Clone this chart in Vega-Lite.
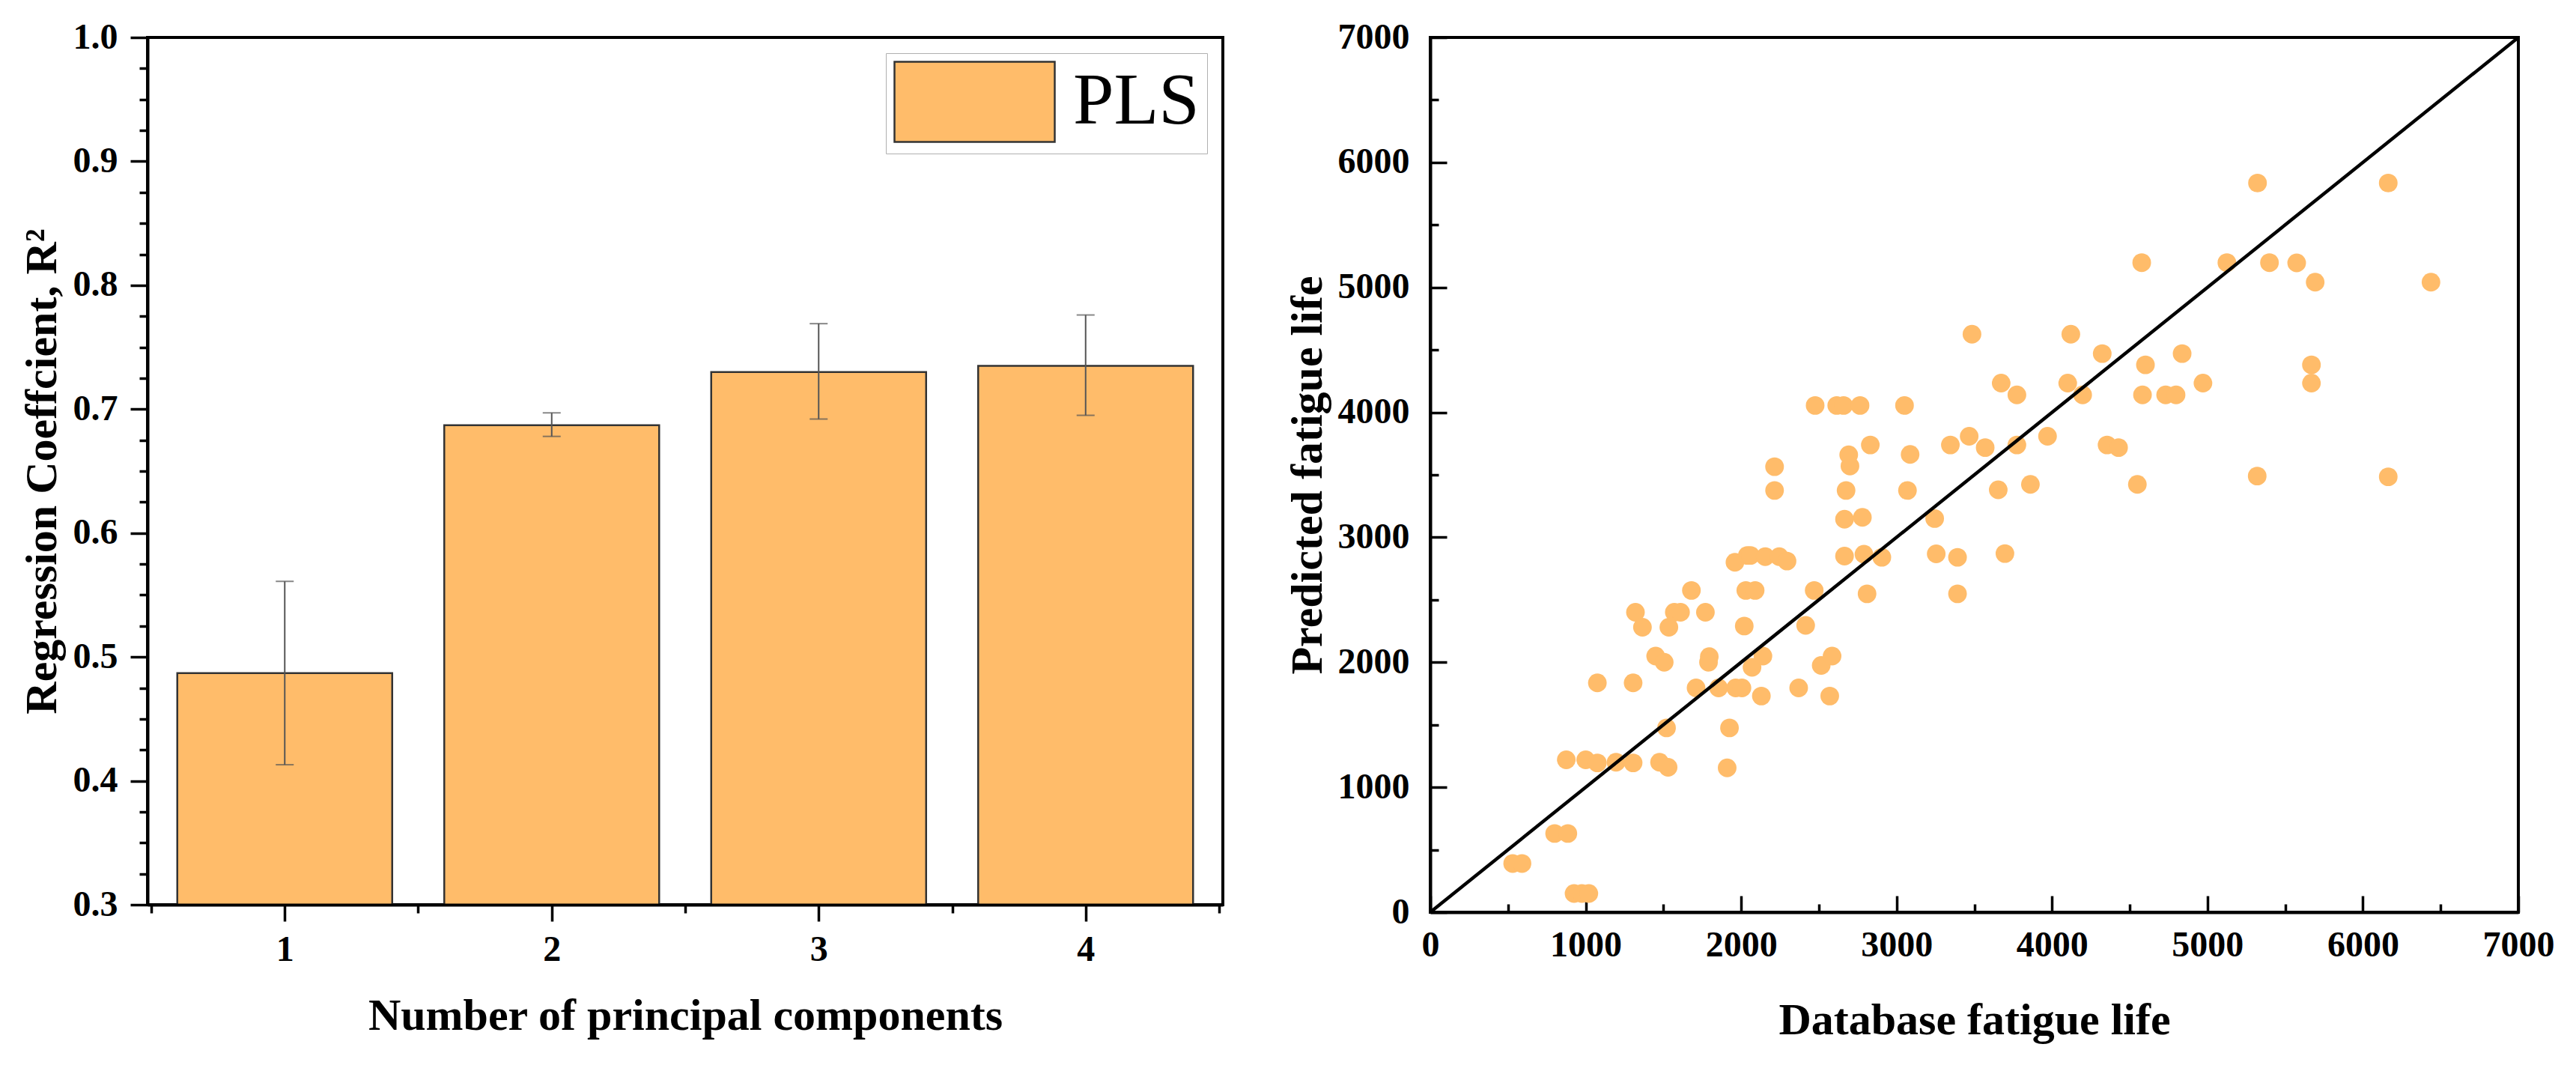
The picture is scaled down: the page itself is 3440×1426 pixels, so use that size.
{
  "$schema": "https://vega.github.io/schema/vega-lite/v6.json",
  "background": "white",
  "padding": {"left": 24, "top": 24, "right": 10, "bottom": 10},
  "datasets": {
    "r2": [
      {"pc": 1, "r2": 0.487, "lo": 0.413, "hi": 0.561, "method": "PLS"},
      {"pc": 2, "r2": 0.687, "lo": 0.678, "hi": 0.697, "method": "PLS"},
      {"pc": 3, "r2": 0.730, "lo": 0.692, "hi": 0.769, "method": "PLS"},
      {"pc": 4, "r2": 0.735, "lo": 0.695, "hi": 0.776, "method": "PLS"}
    ],
    "diag": [
      {"actual": 0, "predicted": 0},
      {"actual": 7000, "predicted": 7000}
    ],
    "pts": [
      {"actual": 530, "predicted": 390}, {"actual": 590, "predicted": 390},
      {"actual": 800, "predicted": 630}, {"actual": 885, "predicted": 630},
      {"actual": 925, "predicted": 150}, {"actual": 975, "predicted": 150}, {"actual": 1020, "predicted": 150},
      {"actual": 875, "predicted": 1220}, {"actual": 1000, "predicted": 1220}, {"actual": 1075, "predicted": 1195},
      {"actual": 1195, "predicted": 1200}, {"actual": 1305, "predicted": 1195}, {"actual": 1475, "predicted": 1200},
      {"actual": 1530, "predicted": 1160}, {"actual": 1910, "predicted": 1155},
      {"actual": 1075, "predicted": 1835}, {"actual": 1305, "predicted": 1835},
      {"actual": 1520, "predicted": 1475}, {"actual": 1925, "predicted": 1475},
      {"actual": 1320, "predicted": 2400}, {"actual": 1365, "predicted": 2280}, {"actual": 1450, "predicted": 2050},
      {"actual": 1505, "predicted": 2000}, {"actual": 1535, "predicted": 2280}, {"actual": 1570, "predicted": 2400},
      {"actual": 1610, "predicted": 2400}, {"actual": 1680, "predicted": 2575}, {"actual": 1770, "predicted": 2400},
      {"actual": 1710, "predicted": 1795}, {"actual": 1795, "predicted": 2045}, {"actual": 1790, "predicted": 2000},
      {"actual": 1855, "predicted": 1795}, {"actual": 1965, "predicted": 1795}, {"actual": 2005, "predicted": 1795},
      {"actual": 2130, "predicted": 1730}, {"actual": 2020, "predicted": 2290}, {"actual": 2030, "predicted": 2575},
      {"actual": 2090, "predicted": 2575}, {"actual": 1960, "predicted": 2800}, {"actual": 2040, "predicted": 2855},
      {"actual": 2060, "predicted": 2855}, {"actual": 2155, "predicted": 2845}, {"actual": 2245, "predicted": 2845},
      {"actual": 2295, "predicted": 2810}, {"actual": 2070, "predicted": 1960}, {"actual": 2140, "predicted": 2050},
      {"actual": 2370, "predicted": 1795}, {"actual": 2415, "predicted": 2295}, {"actual": 2470, "predicted": 2575},
      {"actual": 2515, "predicted": 1975}, {"actual": 2585, "predicted": 2050}, {"actual": 2570, "predicted": 1730},
      {"actual": 2215, "predicted": 3565}, {"actual": 2215, "predicted": 3375},
      {"actual": 2665, "predicted": 2850}, {"actual": 2790, "predicted": 2865}, {"actual": 2905, "predicted": 2840},
      {"actual": 2810, "predicted": 2548}, {"actual": 2665, "predicted": 3145}, {"actual": 2780, "predicted": 3160},
      {"actual": 2675, "predicted": 3375}, {"actual": 2700, "predicted": 3570}, {"actual": 2692, "predicted": 3660},
      {"actual": 3070, "predicted": 3375}, {"actual": 3245, "predicted": 3150}, {"actual": 3255, "predicted": 2868},
      {"actual": 3392, "predicted": 2840}, {"actual": 3392, "predicted": 2548}, {"actual": 3697, "predicted": 2870},
      {"actual": 2476, "predicted": 4055}, {"actual": 2615, "predicted": 4055}, {"actual": 2659, "predicted": 4055},
      {"actual": 2765, "predicted": 4055}, {"actual": 3051, "predicted": 4055},
      {"actual": 3485, "predicted": 4625}, {"actual": 4121, "predicted": 4625}, {"actual": 4323, "predicted": 4470},
      {"actual": 4837, "predicted": 4470}, {"actual": 4601, "predicted": 4380},
      {"actual": 3673, "predicted": 4234}, {"actual": 3774, "predicted": 4140}, {"actual": 4101, "predicted": 4234},
      {"actual": 4197, "predicted": 4140}, {"actual": 4582, "predicted": 4140}, {"actual": 4731, "predicted": 4140},
      {"actual": 4798, "predicted": 4140}, {"actual": 4971, "predicted": 4234},
      {"actual": 4577, "predicted": 5198}, {"actual": 5125, "predicted": 5198}, {"actual": 5399, "predicted": 5198},
      {"actual": 2831, "predicted": 3739}, {"actual": 3087, "predicted": 3663}, {"actual": 3346, "predicted": 3739},
      {"actual": 3467, "predicted": 3809}, {"actual": 3570, "predicted": 3718}, {"actual": 3774, "predicted": 3739},
      {"actual": 3971, "predicted": 3809}, {"actual": 4354, "predicted": 3739}, {"actual": 4428, "predicted": 3718},
      {"actual": 3654, "predicted": 3380}, {"actual": 3861, "predicted": 3424}, {"actual": 4549, "predicted": 3424},
      {"actual": 5320, "predicted": 3490},
      {"actual": 5322, "predicted": 5835}, {"actual": 6163, "predicted": 5835}, {"actual": 5574, "predicted": 5196},
      {"actual": 5693, "predicted": 5042}, {"actual": 6438, "predicted": 5042}, {"actual": 5669, "predicted": 4380},
      {"actual": 5669, "predicted": 4234}, {"actual": 6163, "predicted": 3484}
    ]
  },
  "config": {
    "font": "Liberation Serif",
    "view": {"stroke": "black", "strokeWidth": 4},
    "concat": {"spacing": 79},
    "axis": {
      "grid": false,
      "domainColor": "black",
      "domainWidth": 4,
      "tickColor": "black",
      "tickWidth": 3.5,
      "labelFont": "Liberation Serif",
      "labelFontWeight": "bold",
      "labelFontSize": 48,
      "labelColor": "black",
      "labelFlush": false,
      "labelOverlap": false,
      "titleFont": "Liberation Serif",
      "titleFontWeight": "bold",
      "titleFontSize": 60,
      "titleColor": "black"
    }
  },
  "resolve": {"scale": {"color": "independent"}, "legend": {"color": "independent"}},
  "hconcat": [
    {
      "width": 1436,
      "height": 1158,
      "data": {"name": "r2"},
      "layer": [
        {
          "mark": {"type": "bar", "width": 287, "stroke": "#333333", "strokeWidth": 2.5, "clip": true},
          "encoding": {
            "x": {
              "field": "pc",
              "type": "quantitative",
              "title": "Number of principal components",
              "scale": {"domain": [0.5, 4.5], "nice": false, "zero": false},
              "axis": {
                "values": [0.5, 1, 1.5, 2, 2.5, 3, 3.5, 4, 4.5],
                "labelExpr": "datum.value === round(datum.value) ? format(datum.value, 'd') : ''",
                "tickSize": {"condition": {"test": "datum.value === round(datum.value)", "value": 22}, "value": 11},
                "labelPadding": 14,
                "titlePadding": 35,
                "zindex": 1
              }
            },
            "y": {
              "field": "r2",
              "type": "quantitative",
              "title": "Regression Coeffcient, R²",
              "scale": {"domain": [0.3, 1.0], "nice": false, "zero": false},
              "axis": {
                "values": [0.3, 0.325, 0.35, 0.375, 0.4, 0.425, 0.45, 0.475, 0.5, 0.525, 0.55, 0.575, 0.6, 0.625, 0.65, 0.675, 0.7, 0.725, 0.75, 0.775, 0.8, 0.825, 0.85, 0.875, 0.9, 0.925, 0.95, 0.975, 1.0],
                "format": ".1f",
                "labelExpr": "round(datum.value * 1000) % 100 === 0 ? datum.label : ''",
                "tickSize": {"condition": {"test": "round(datum.value * 1000) % 100 === 0", "value": 23}, "value": 11},
                "labelPadding": 17,
                "titlePadding": 10
              }
            },
            "color": {
              "field": "method",
              "type": "nominal",
              "scale": {"range": ["#FFBC6A"]},
              "legend": {
                "title": null,
                "orient": "top-right",
                "offset": 21,
                "symbolType": "M-1,-1H3V1H-1Z",
                "symbolSize": 11449,
                "symbolStrokeColor": "#333333",
                "symbolStrokeWidth": 2.5,
                "symbolOpacity": 1,
                "labelFont": "Liberation Serif",
                "labelFontWeight": "normal",
                "labelFontSize": 98,
                "labelColor": "black",
                "labelOffset": 130,
                "labelLimit": 0,
                "padding": 10,
                "strokeColor": "#b0b0b0",
                "fillColor": "white"
              }
            }
          }
        },
        {
          "mark": {"type": "rule", "color": "#555555", "strokeWidth": 2},
          "encoding": {
            "x": {"field": "pc", "type": "quantitative"},
            "y": {"field": "lo", "type": "quantitative"},
            "y2": {"field": "hi"}
          }
        },
        {
          "mark": {"type": "tick", "orient": "horizontal", "size": 24, "thickness": 2, "color": "#555555"},
          "encoding": {
            "x": {"field": "pc", "type": "quantitative"},
            "y": {"field": "lo", "type": "quantitative"}
          }
        },
        {
          "mark": {"type": "tick", "orient": "horizontal", "size": 24, "thickness": 2, "color": "#555555"},
          "encoding": {
            "x": {"field": "pc", "type": "quantitative"},
            "y": {"field": "hi", "type": "quantitative"}
          }
        }
      ]
    },
    {
      "width": 1453,
      "height": 1168,
      "layer": [
        {
          "data": {"name": "pts"},
          "mark": {"type": "circle", "size": 620, "color": "#FFBC6A", "opacity": 1},
          "encoding": {
            "x": {
              "field": "actual",
              "type": "quantitative",
              "title": "Database fatigue life",
              "scale": {"domain": [0, 7000], "nice": false},
              "axis": {
                "values": [0, 500, 1000, 1500, 2000, 2500, 3000, 3500, 4000, 4500, 5000, 5500, 6000, 6500, 7000],
                "format": "d",
                "labelExpr": "datum.value % 1000 === 0 ? datum.label : ''",
                "tickSize": {"condition": {"test": "datum.value % 1000 === 0", "value": -22}, "value": -11},
                "labelPadding": 42,
                "titlePadding": 36
              }
            },
            "y": {
              "field": "predicted",
              "type": "quantitative",
              "title": "Predicted fatigue life",
              "scale": {"domain": [0, 7000], "nice": false},
              "axis": {
                "values": [0, 500, 1000, 1500, 2000, 2500, 3000, 3500, 4000, 4500, 5000, 5500, 6000, 6500, 7000],
                "format": "d",
                "labelExpr": "datum.value % 1000 === 0 ? datum.label : ''",
                "tickSize": {"condition": {"test": "datum.value % 1000 === 0", "value": -22}, "value": -11},
                "labelPadding": 50,
                "titlePadding": 9
              }
            }
          }
        },
        {
          "data": {"name": "diag"},
          "mark": {"type": "line", "color": "black", "strokeWidth": 4.5},
          "encoding": {
            "x": {"field": "actual", "type": "quantitative"},
            "y": {"field": "predicted", "type": "quantitative"}
          }
        }
      ]
    }
  ]
}
